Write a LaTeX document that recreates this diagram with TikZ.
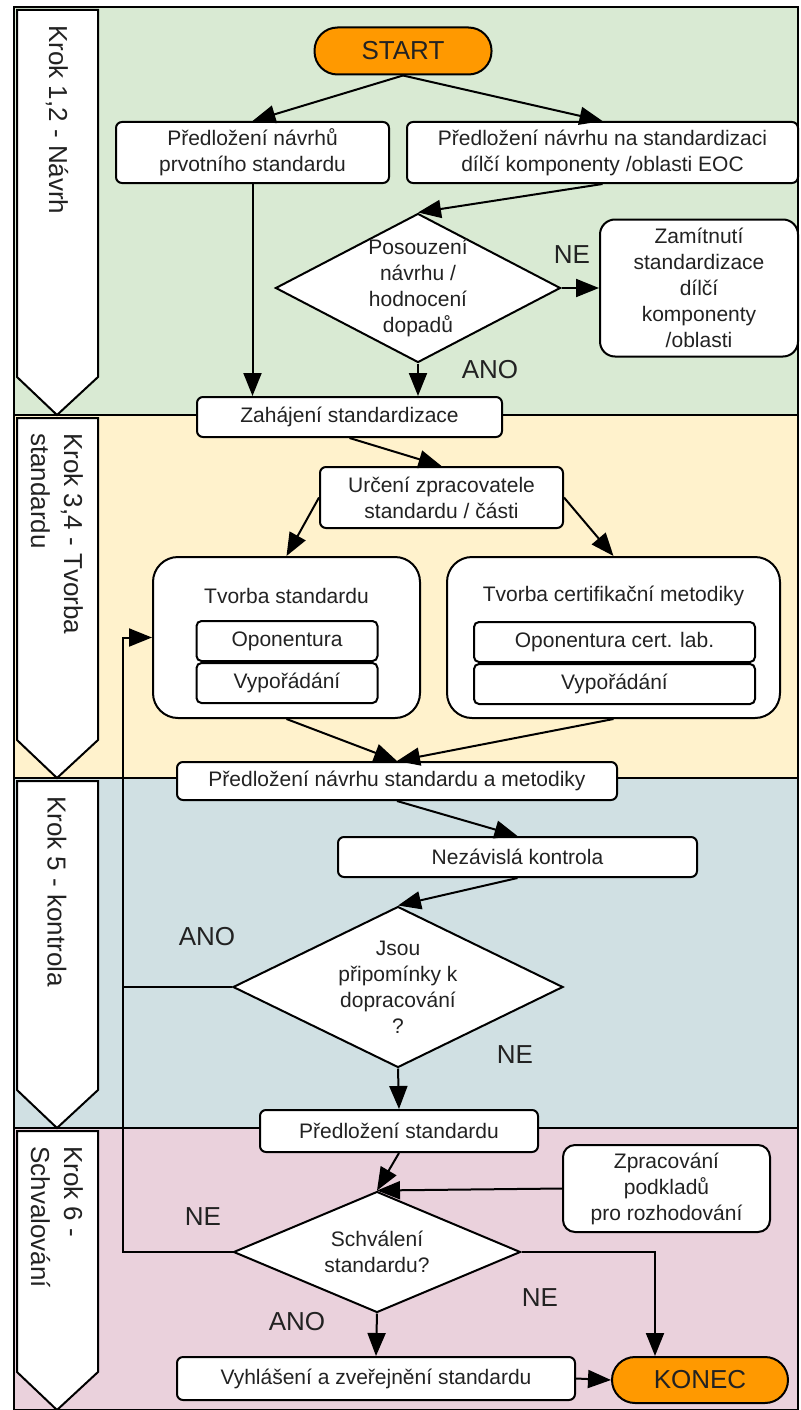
\documentclass[tikz,border=0pt]{standalone}
\usepackage{fontspec}
\setmainfont{Liberation Sans}
\usetikzlibrary{positioning, shapes.geometric, arrows.meta}

\definecolor{laneA}{HTML}{D9EAD3}
\definecolor{laneB}{HTML}{FFF2CC}
\definecolor{laneC}{HTML}{D0E0E3}
\definecolor{laneD}{HTML}{EAD1DC}
\definecolor{termfill}{HTML}{FF9900}
\definecolor{txt}{HTML}{222222}

\tikzstyle{line} = [line width=2pt]
\tikzstyle{arrow} = [line width=2pt, -{Triangle[length=23pt,width=18pt]}]
\tikzstyle{proc} = [rectangle, rounded corners=6pt, draw, line width=2pt, fill=white, text=txt, font=\fontsize{21}{26}\selectfont, align=center, inner sep=0pt]
\tikzstyle{inbox} = [proc, rounded corners=5pt, minimum height=40pt]
\tikzstyle{term} = [rectangle, rounded corners=23pt, draw, line width=2pt, fill=termfill, text=txt, font=\fontsize{26}{30}\selectfont, inner sep=0pt]
\tikzstyle{decision} = [diamond, draw, line width=2pt, fill=white, inner sep=0pt]
\tikzstyle{dtext} = [text=txt, font=\fontsize{21}{26}\selectfont, align=center, inner sep=0pt]
\tikzstyle{yesno} = [text=txt, font=\fontsize{26}{30}\selectfont, inner sep=0pt]
\tikzstyle{lanetag} = [rotate=-90, anchor=west, align=left, text=txt, font=\fontsize{26}{33}\selectfont, inner sep=0pt]

\begin{document}
\begin{tikzpicture}[x=1pt, y=-1pt]
  \useasboundingbox (0,0) rectangle (800,1410);

  % Lanes
  \fill[laneA] (14,7) rectangle (798,415);
  \fill[laneB] (14,415) rectangle (798,778);
  \fill[laneC] (14,778) rectangle (798,1128);
  \fill[laneD] (14,1128) rectangle (798,1410);
  \draw[line] (14,7) rectangle (798,1410);
  \foreach \y in {415, 778, 1128}
    \draw[line] (14,\y) -- (798,\y);
  \foreach \top/\bot in {7/415, 415/778, 778/1128, 1128/1410}
    \filldraw[fill=white, line] (17,\top+3) -- (98,\top+3) -- (98,\bot-38) -- (57,\bot) -- (17,\bot-38) -- cycle;

  \node[lanetag] (tag1) at (57,25) {Krok 1,2 - Návrh};
  \node[lanetag] (tag2) at (57,433) {Krok 3,4 - Tvorba\\standardu};
  \node[lanetag] (tag3) at (57,796) {Krok 5 - kontrola};
  \node[lanetag] (tag4) at (57,1146) {Krok 6 -\\Schvalování};

  % Krok 1,2
  \node[term, minimum width=177pt, minimum height=47pt] (start) at (403,51) {START};
  \node[proc, minimum width=273pt, minimum height=61pt] (predA) at (252.5,152.5) {Předložení návrhů\\prvotního standardu};
  \node[proc, minimum width=391pt, minimum height=61pt] (predB) at (602.5,152.5) {Předložení návrhu na standardizaci\\dílčí komponenty /oblasti EOC};
  \node[decision, minimum width=285pt, minimum height=149pt] (posouz) at (418,288) {};
  \node[dtext] at (posouz) {Posouzení\\návrhu /\\hodnocení\\dopadů};
  \node[proc, rounded corners=15pt, minimum width=198pt, minimum height=137pt] (zamit) at (699,288) {Zamítnutí\\standardizace\\dílčí\\komponenty\\/oblasti};
  \node[proc, minimum width=305pt, minimum height=40pt] (zahaj) at (349.5,417) {Zahájení standardizace};
  \node[yesno] (ne1) at (572,255) {NE};
  \node[yesno] (ano1) at (490,370) {ANO};

  \draw[arrow] (start.south) -- (predA.north);
  \draw[arrow] (start.south) -- (predB.north);
  \draw[arrow] (predA.south) -- (predA.south |- zahaj.north);
  \draw[arrow] (predB.south) -- (posouz.north);
  \draw[arrow] (posouz.east) -- (zamit.west);
  \draw[arrow] (posouz.south) -- (posouz.south |- zahaj.north);

  % Krok 3,4
  \node[proc, minimum width=243pt, minimum height=61pt] (urceni) at (441.5,497.5) {Určení zpracovatele\\standardu / části};
  \node[proc, rounded corners=25pt, minimum width=267pt, minimum height=161pt] (tvorba) at (286.5,637.5) {};
  \node[dtext] (tvorbaT) at (286.5,596) {Tvorba standardu};
  \node[inbox, minimum width=181pt] (opon1) at (287,641) {Oponentura};
  \node[inbox, minimum width=181pt, below=0pt of opon1] (vyp1) {Vypořádání};
  \node[proc, rounded corners=25pt, minimum width=333pt, minimum height=161pt] (metod) at (613.5,637.5) {};
  \node[dtext] (metodT) at (613.5,596) {Tvorba certifikační metodiky};
  \node[inbox, minimum width=281pt] (opon2) at (614.5,642) {Oponentura cert. lab.};
  \node[inbox, minimum width=281pt, below=0pt of opon2] (vyp2) {Vypořádání};
  \node[proc, minimum width=440pt, minimum height=38pt] (predC) at (397,781) {Předložení návrhu standardu a metodiky};

  \draw[arrow] (zahaj.south) -- (urceni.north);
  \draw[arrow] (urceni.west) -- (tvorba.north);
  \draw[arrow] (urceni.east) -- (metod.north);
  \draw[arrow] (tvorba.south) -- (predC.north);
  \draw[arrow] (metod.south) -- (predC.north);

  % Krok 5
  \node[proc, minimum width=359pt, minimum height=40pt] (nezav) at (517.5,857) {Nezávislá kontrola};
  \node[decision, minimum width=330pt, minimum height=161pt] (pripom) at (398,987) {};
  \node[dtext] at (pripom) {Jsou\\připomínky k\\dopracování\\?};
  \node[proc, minimum width=278pt, minimum height=42pt] (predD) at (399,1131) {Předložení standardu};
  \node[yesno] (ano2) at (207,937) {ANO};
  \node[yesno] (ne2) at (515,1055) {NE};

  \coordinate (loop) at (123,637.5);
  \draw[arrow] (predC.south) -- (nezav.north);
  \draw[arrow] (nezav.south) -- (pripom.north);
  \draw[arrow] (pripom.south) -- (predD.north);
  \draw[line] (pripom.west) -- (pripom.west -| loop);

  % Krok 6
  \node[proc, rounded corners=12pt, minimum width=207pt, minimum height=87pt] (zprac) at (666.5,1188.5) {Zpracování\\podkladů\\pro rozhodování};
  \node[decision, minimum width=287pt, minimum height=121pt] (schval) at (377,1252) {};
  \node[dtext] at (schval) {Schválení\\standardu?};
  \node[proc, minimum width=398pt, minimum height=43pt] (vyhl) at (376,1378.5) {Vyhlášení a zveřejnění standardu};
  \node[term, minimum width=176pt, minimum height=46pt] (konec) at (700,1380) {KONEC};
  \node[yesno] (ne3) at (203,1217) {NE};
  \node[yesno] (ano3) at (297,1322) {ANO};
  \node[yesno] (ne4) at (540,1298) {NE};

  \coordinate (turn) at (655,1252);
  \draw[arrow] (predD.south) -- (schval.north);
  \draw[arrow] (zprac.west) -- (schval.north);
  \draw[arrow] (schval.west) -- (schval.west -| loop) -- (loop) -- (tvorba.west);
  \draw[arrow] (schval.south) -- (vyhl.north);
  \draw[arrow] (schval.east) -- (turn) -- (turn |- konec.north);
  \draw[arrow] (vyhl.east) -- (konec.west);
\end{tikzpicture}
\end{document}
